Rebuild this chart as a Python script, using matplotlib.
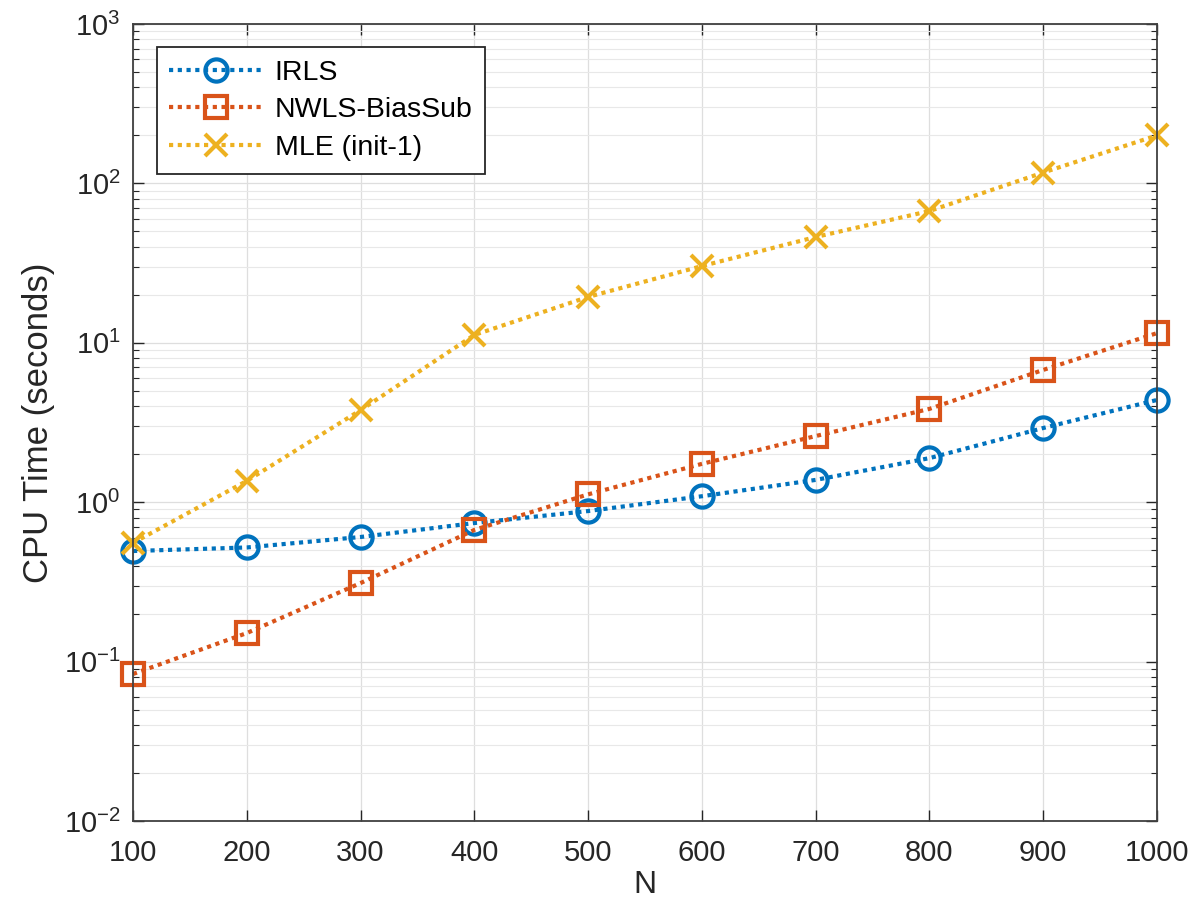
import math

import matplotlib.pyplot as plt
from matplotlib.ticker import LogLocator, FixedLocator, FuncFormatter

n_values = [100, 200, 300, 400, 500, 600, 700, 800, 900, 1000]
irls = [0.494, 0.52, 0.605, 0.74, 0.88, 1.09, 1.38, 1.89, 2.92, 4.38]
nwls = [0.0836, 0.151, 0.311, 0.67, 1.12, 1.74, 2.6, 3.85, 6.76, 11.5]
mle = [0.555, 1.36, 3.78, 11.2, 19.4, 30.3, 46.1, 67.1, 117, 200]

plt.rcParams["font.family"] = ["Liberation Sans", "DejaVu Sans"]
plt.rcParams["mathtext.fontset"] = "custom"
plt.rcParams["mathtext.rm"] = "Liberation Sans"
plt.rcParams["mathtext.it"] = "Liberation Sans"
plt.rcParams["mathtext.default"] = "regular"
plt.rcParams["axes.unicode_minus"] = False

fig = plt.figure(figsize=(11.89, 9.13), dpi=100)
ax = fig.add_axes([133 / 1189, 1 - 821 / 913, (1157 - 133) / 1189, (821 - 24) / 913])

kw = dict(linestyle=(0, (1, 1.1)), linewidth=3.0, markersize=16, markeredgewidth=3.0,
          markerfacecolor="none", clip_on=False)
ax.plot(n_values, irls, marker="o", color="#0072BD", label="IRLS", **kw)
ax.plot(n_values, nwls, marker="s", color="#D95319", label="NWLS-BiasSub", **kw)
ax.plot(n_values, mle, marker="x", color="#EDB120", label="MLE (init-1)", **kw)

ax.set_yscale("log")
ax.set_xlim(100, 1000)
ax.set_ylim(1e-2, 1e3)
ax.xaxis.set_major_locator(FixedLocator(n_values))
ax.yaxis.set_major_locator(LogLocator(base=10, numticks=10))
ax.yaxis.set_minor_locator(LogLocator(base=10, subs=range(2, 10), numticks=20))
ax.yaxis.set_major_formatter(FuncFormatter(lambda v, p: r"$10^{%d}$" % round(math.log10(v))))

ax.grid(True, which="major", color="#dedede", linewidth=0.9)
ax.grid(True, which="minor", axis="y", color="#e8e8e8", linewidth=0.8)
ax.set_axisbelow(True)

ax.tick_params(which="both", direction="in", top=True, right=True,
               colors="#262626", labelsize=21)
ax.tick_params(axis="x", pad=13)
ax.tick_params(axis="y", pad=9)
ax.tick_params(which="major", length=8, width=1)
ax.tick_params(which="minor", length=4, width=0.8)
for s in ax.spines.values():
    s.set_color("#404040")
    s.set_linewidth(1.3)

ax.set_xlabel("N", fontsize=23, color="#262626", labelpad=2)
ax.set_ylabel("CPU Time (seconds)", fontsize=25, color="#262626", labelpad=6)

leg = ax.legend(loc="upper left", bbox_to_anchor=(0.023, 0.971), fontsize=20.5,
                fancybox=False, edgecolor="#262626", framealpha=1,
                handlelength=3.3, handletextpad=0.4, borderpad=0.45,
                labelspacing=0.4, borderaxespad=0)
leg.get_frame().set_linewidth(1.3)

fig.savefig("out.png", dpi=100)
